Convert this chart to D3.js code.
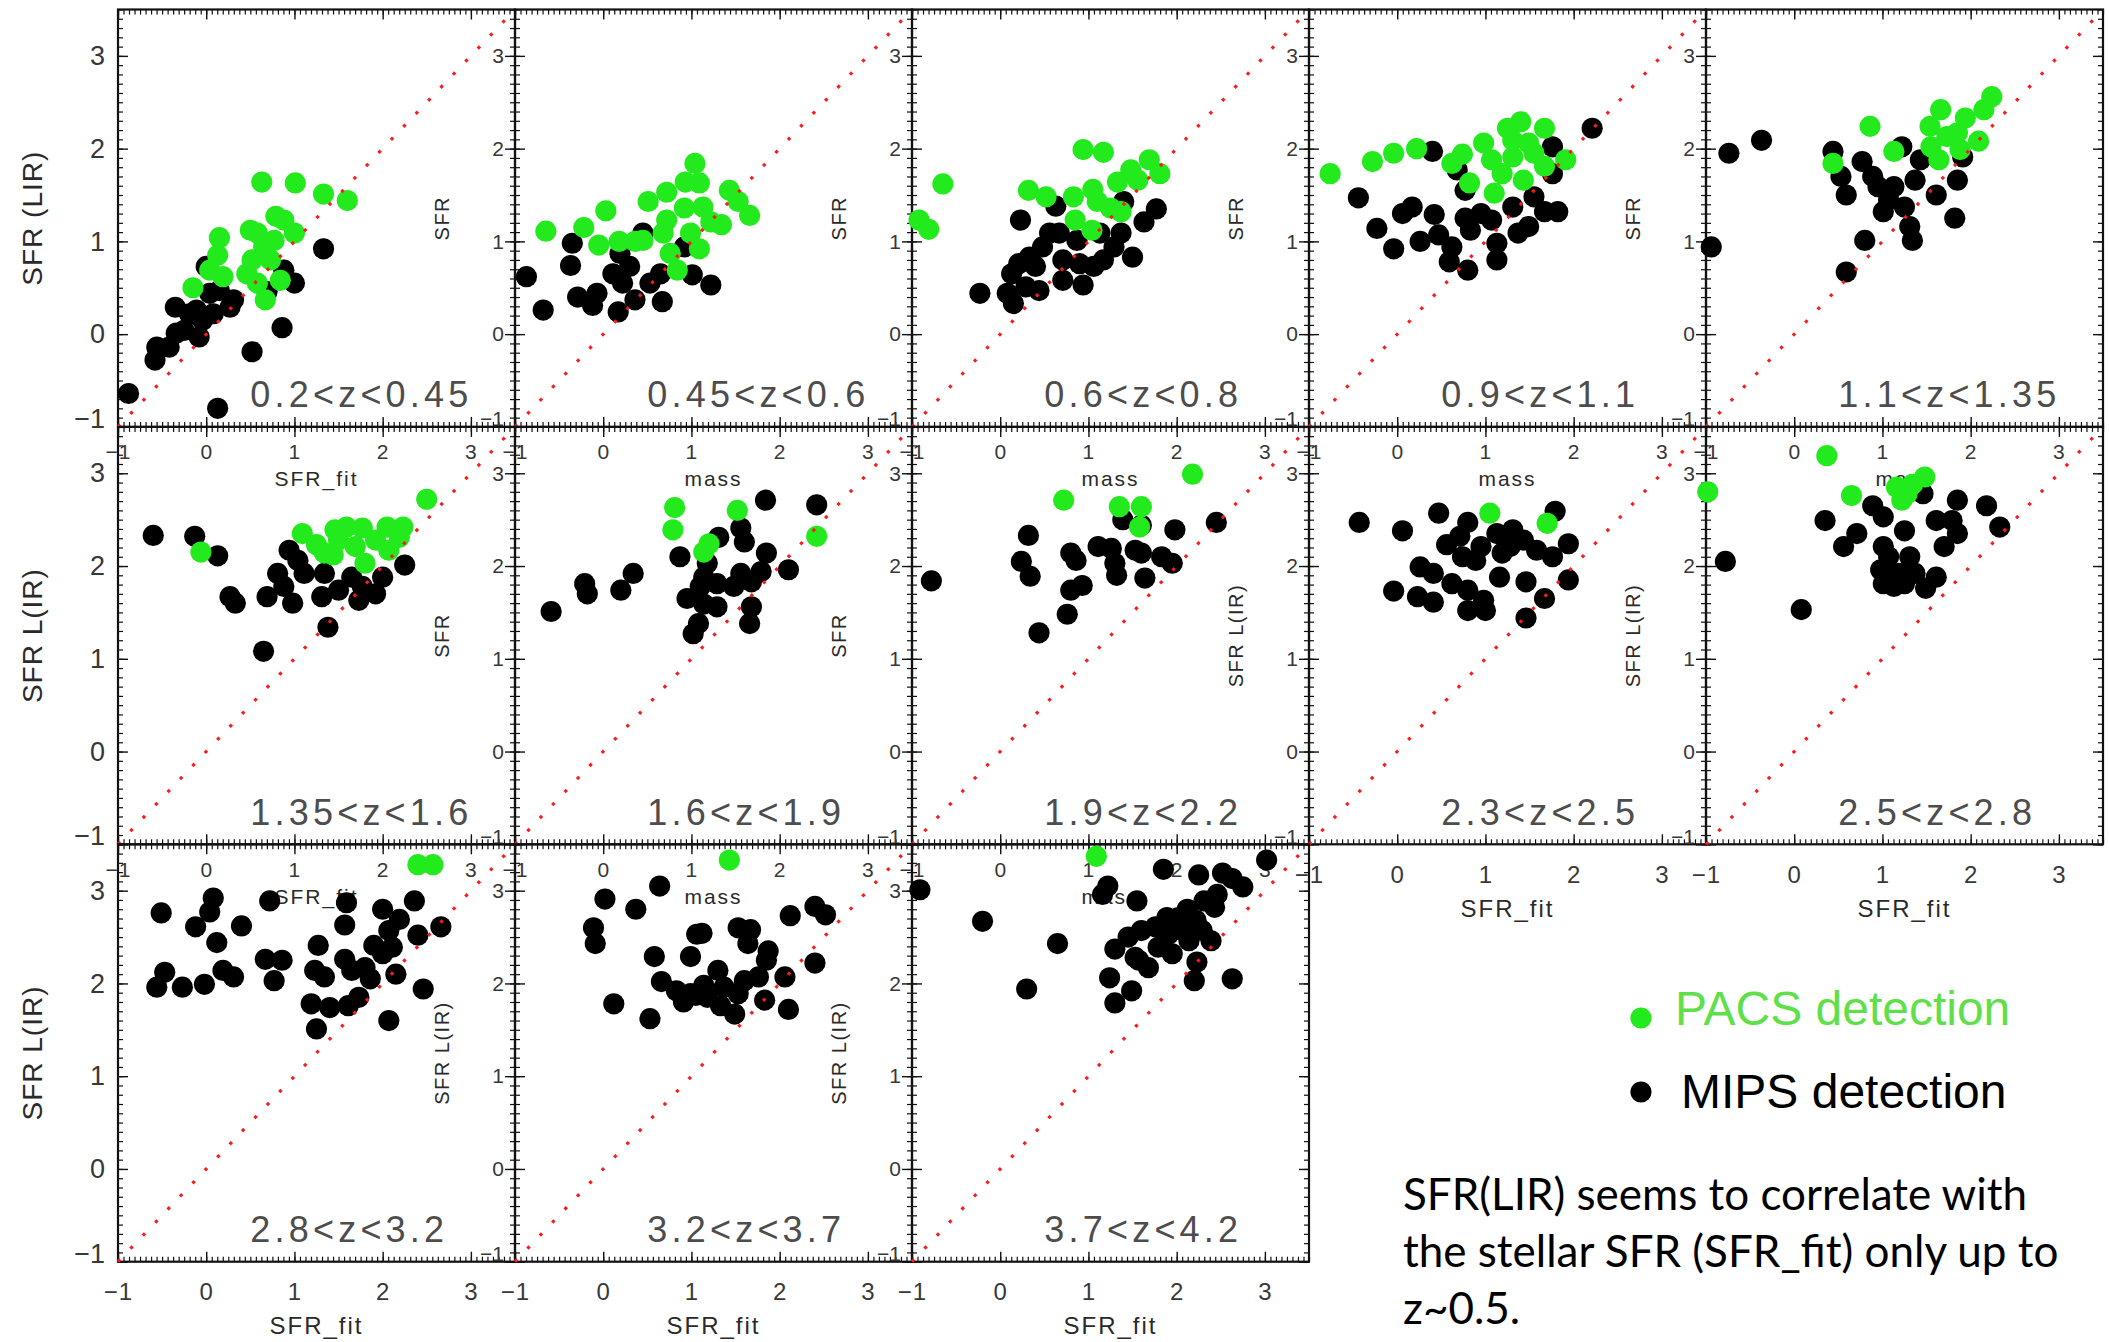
<!DOCTYPE html>
<html><head><meta charset="utf-8">
<script src="https://cdn.jsdelivr.net/npm/d3@7"></script>
<style>body{margin:0;background:#fff}svg{display:block}</style>
</head><body>
<svg id="c" width="2109" height="1342"></svg>
<script>
// ---------------- data ----------------
const zBins = ["0.2<z<0.45","0.45<z<0.6","0.6<z<0.8","0.9<z<1.1","1.1<z<1.35",
               "1.35<z<1.6","1.6<z<1.9","1.9<z<2.2","2.3<z<2.5","2.5<z<2.8",
               "2.8<z<3.2","3.2<z<3.7","3.7<z<4.2"];
const xNames = ["SFR_fit","mass","mass","mass","mass",
                "SFR_fit","mass","mass","SFR_fit","SFR_fit",
                "SFR_fit","SFR_fit","SFR_fit"];
const yNames = ["SFR (LIR)","SFR","SFR","SFR","SFR",
                "SFR L(IR)","SFR","SFR","SFR L(IR)","SFR L(IR)",
                "SFR L(IR)","SFR L(IR)","SFR L(IR)"];
const majorTicks = [-1,0,1,2,3];
const axisDomain = [-1,3.5];
const legendLabels = ["PACS detection","MIPS detection"];
const noteLines = ["SFR(LIR) seems to correlate with","the stellar SFR (SFR_fit) only up to","z~0.5."];

// [SFR_fit (or mass), SFR(LIR)] per redshift bin
const pacs_z1 = [[0.63,1.64],[1.01,1.63],[1.33,1.51],[1.60,1.44],[0.15,1.04],[0.13,0.85],[0.04,0.69],[0.19,0.62],[-0.15,0.50],[0.79,1.27],[0.88,1.23],[1.0,1.09],[0.58,1.09],[0.65,0.94],[0.52,0.80],[0.73,0.80],[0.46,0.65],[0.58,0.55],[0.84,0.58],[0.67,0.37],[0.77,1.01],[0.50,1.12]];
const mips_z1 = [[1.33,0.92],[1.0,0.55],[0.88,0.69],[0.69,0.46],[0.86,0.07],[0.52,-0.19],[0.13,-0.80],[-0.88,-0.64],[-0.58,-0.28],[-0.56,-0.14],[-0.42,-0.14],[-0.35,0.29],[-0.19,0.22],[-0.25,0.04],[-0.08,-0.03],[-0.04,0.15],[0.04,0.44],[0.15,0.47],[0.27,0.29],[0.31,0.37],[0.0,0.73],[-0.11,0.26],[0.08,0.22],[-0.34,0.01]];
const pacs_z2 = [[-0.65,1.11],[-0.22,1.15],[0.03,1.33],[-0.05,0.96],[0.18,1.0],[0.36,1.0],[0.45,1.01],[0.51,1.43],[0.72,1.53],[0.93,1.64],[1.04,1.84],[1.09,1.63],[0.92,1.36],[1.13,1.37],[1.43,1.55],[1.53,1.43],[1.66,1.28],[1.34,1.18],[1.09,0.92],[0.72,1.23],[0.68,1.09],[0.84,0.69],[0.76,0.87],[1.22,1.21],[0.99,1.09]];
const mips_z2 = [[-0.87,0.62],[-0.68,0.26],[-0.37,0.74],[-0.35,0.98],[-0.29,0.40],[-0.12,0.31],[-0.07,0.44],[0.17,0.24],[0.11,0.65],[0.22,0.55],[0.30,0.73],[0.36,0.37],[0.45,1.09],[0.53,0.55],[0.67,0.35],[0.65,0.65],[1.01,0.64],[1.22,0.53],[0.92,0.94],[0.19,0.87]];
const pacs_z3 = [[-0.92,1.23],[-0.81,1.13],[-0.65,1.62],[0.94,1.99],[1.17,1.96],[0.32,1.55],[0.52,1.48],[0.83,1.48],[1.05,1.56],[1.10,1.43],[1.25,1.36],[1.37,1.32],[0.85,1.23],[1.04,1.12],[1.33,1.64],[1.48,1.77],[1.56,1.66],[1.69,1.88],[1.81,1.73]];
const mips_z3 = [[-0.23,0.44],[0.08,0.44],[0.15,0.33],[0.23,1.23],[0.63,1.38],[1.40,1.43],[1.77,1.35],[1.63,1.21],[1.5,0.83],[0.44,0.47],[0.29,0.51],[0.13,0.65],[0.21,0.76],[0.33,0.83],[0.48,0.94],[0.56,1.09],[0.71,0.80],[0.71,0.58],[0.94,0.53],[0.90,0.76],[1.06,0.73],[1.17,0.80],[1.29,0.94],[1.13,1.09],[1.37,1.09],[0.87,1.01],[0.67,1.09],[0.40,0.73]];
const pacs_z4 = [[-0.76,1.73],[-0.28,1.86],[-0.04,1.95],[0.22,2.0],[0.62,1.84],[0.74,1.94],[0.82,1.63],[0.98,2.06],[1.10,1.52],[1.25,2.22],[1.40,2.29],[1.67,2.22],[1.91,1.88],[1.31,1.91],[1.49,2.06],[1.19,1.73],[1.43,1.66],[1.67,1.81],[1.07,1.88],[1.55,1.95],[1.31,2.09]];
const mips_z4 = [[2.21,2.22],[0.40,1.97],[-0.44,1.47],[-0.23,1.14],[-0.04,0.92],[0.06,1.30],[0.17,1.37],[0.26,1.0],[0.42,1.29],[0.47,1.07],[0.62,0.94],[0.59,0.78],[0.80,0.69],[1.13,0.80],[1.13,0.98],[1.37,1.09],[0.77,1.25],[0.95,1.30],[0.77,1.55],[0.68,1.77],[1.31,1.37],[1.55,1.48],[1.67,1.32],[1.82,1.32],[1.76,2.02],[1.76,1.73],[0.83,1.12],[1.07,1.23],[1.49,1.16]];
const pacs_z5 = [[0.86,2.24],[1.13,1.97],[0.44,1.84],[1.66,2.42],[1.54,2.24],[1.94,2.33],[2.15,2.42],[2.24,2.56],[2.09,2.08],[1.55,2.02],[1.73,2.13],[1.85,2.17],[1.64,1.88],[1.88,1.99]];
const mips_z5 = [[-0.94,0.94],[-0.74,1.95],[-0.37,2.09],[0.44,1.97],[0.59,1.50],[0.77,1.86],[0.80,1.01],[0.59,0.67],[1.01,1.32],[1.22,2.02],[1.13,1.59],[1.34,1.01],[1.31,1.16],[1.61,1.50],[1.82,1.25],[1.85,1.66],[1.91,1.91],[0.89,1.70],[1.07,1.45],[1.25,1.37],[1.37,1.66],[1.43,1.88],[0.95,1.59],[0.53,1.70]];
const pacs_z6 = [[2.50,2.72],[-0.06,2.15],[1.09,2.35],[1.25,2.23],[1.34,2.14],[1.44,2.12],[1.46,2.39],[1.59,2.42],[1.77,2.41],[1.80,2.03],[1.92,2.28],[2.05,2.42],[2.07,2.17],[2.23,2.42],[1.50,2.28],[1.69,2.21],[2.19,2.31]];
const mips_z6 = [[-0.60,2.33],[-0.13,2.32],[0.13,2.11],[0.27,1.67],[0.33,1.60],[0.65,1.08],[1.38,1.34],[0.69,1.67],[0.98,1.60],[0.94,2.17],[0.81,1.92],[0.88,1.78],[1.31,1.67],[1.50,1.74],[1.73,1.63],[1.92,1.70],[2.25,2.01],[2.00,1.88],[1.11,1.92],[1.34,1.92],[1.65,1.88],[1.77,1.78],[1.04,2.06]];
const pacs_z7 = [[0.81,2.63],[0.79,2.39],[1.52,2.60],[1.20,2.24],[1.14,2.15],[2.42,2.32]];
const mips_z7 = [[-0.59,1.51],[-0.21,1.81],[-0.18,1.70],[0.20,1.74],[0.34,1.92],[0.87,2.10],[1.31,2.31],[1.56,2.41],[1.60,2.26],[1.84,2.71],[2.42,2.66],[2.10,1.96],[1.85,2.14],[1.79,1.94],[1.56,1.92],[1.68,1.83],[1.48,1.78],[1.29,1.81],[1.14,1.88],[1.18,2.03],[1.10,1.78],[0.95,1.65],[1.29,1.56],[1.68,1.56],[1.66,1.38],[1.08,1.38],[1.02,1.27],[1.14,1.59]];
const pacs_z8 = [[0.72,2.71],[2.18,2.99],[1.35,2.64],[1.60,2.64],[1.58,2.42]];
const mips_z8 = [[-0.78,1.84],[0.32,2.33],[0.24,2.05],[0.34,1.89],[0.44,1.28],[0.76,1.48],[0.80,1.74],[0.93,1.79],[0.80,2.14],[0.86,2.06],[1.11,2.21],[1.26,2.19],[1.32,1.90],[1.30,2.03],[1.39,2.50],[1.60,2.44],[1.53,2.17],[1.60,2.14],[1.64,1.87],[1.83,2.10],[1.95,2.03],[1.98,2.39],[2.45,2.47]];
const pacs_z9 = [[1.05,2.57],[1.70,2.46]];
const mips_z9 = [[-0.43,2.47],[0.06,2.38],[0.47,2.57],[0.80,2.47],[0.56,2.23],[0.71,2.32],[0.26,1.99],[0.41,1.92],[-0.04,1.73],[0.23,1.67],[0.41,1.61],[0.62,1.81],[0.80,1.74],[0.80,1.52],[1.00,1.52],[0.98,1.63],[0.74,2.10],[0.89,2.06],[1.16,1.88],[1.13,2.35],[1.31,2.39],[1.43,2.28],[1.19,2.14],[1.46,1.83],[1.46,1.44],[1.67,1.65],[1.94,1.85],[1.79,2.59],[1.94,2.24],[1.76,2.10],[1.58,2.17],[1.28,2.21],[0.95,2.21]];
const pacs_z10 = [[0.37,3.19],[-0.98,2.80],[0.65,2.76],[1.16,2.85],[1.28,2.78],[1.48,2.96],[1.34,2.88],[1.22,2.71]];
const mips_z10 = [[-0.78,2.05],[0.08,1.53],[0.35,2.49],[0.56,2.21],[0.71,2.35],[0.89,2.65],[1.01,2.53],[1.46,2.78],[1.85,2.71],[2.18,2.65],[2.33,2.42],[1.61,2.49],[1.79,2.49],[1.85,2.35],[1.70,2.21],[1.25,2.38],[1.01,2.21],[0.98,1.96],[1.01,1.81],[1.19,1.92],[1.31,2.10],[1.37,1.92],[1.25,1.81],[1.49,1.76],[1.61,1.88],[1.13,1.78],[1.07,2.10]];
const pacs_z11 = [[2.40,3.28],[2.57,3.28]];
const mips_z11 = [[-0.51,2.76],[-0.56,1.96],[-0.47,2.12],[-0.27,1.96],[-0.02,1.99],[-0.12,2.61],[0.08,2.92],[0.04,2.77],[0.12,2.44],[0.40,2.62],[0.19,2.14],[0.31,2.07],[0.72,2.89],[0.67,2.26],[0.86,2.25],[0.77,2.03],[1.27,2.41],[1.23,2.14],[1.34,2.07],[1.19,1.78],[1.40,1.74],[1.25,1.51],[1.59,2.87],[1.57,2.63],[1.57,2.26],[1.65,2.14],[1.61,1.76],[1.73,1.85],[1.80,2.17],[1.86,2.05],[1.90,2.41],[2.0,2.80],[2.07,2.57],[2.19,2.69],[2.11,2.39],[2.0,2.32],[2.15,2.10],[2.07,1.60],[2.36,2.89],[2.40,2.52],[2.46,1.94],[2.66,2.61]];
const pacs_z12 = [[1.43,3.33]];
const mips_z12 = [[0.64,3.05],[0.02,2.91],[0.37,2.80],[-0.11,2.60],[-0.09,2.43],[0.12,1.78],[0.53,1.62],[0.58,2.29],[0.99,2.29],[1.12,2.54],[1.06,2.53],[1.53,2.60],[1.67,2.58],[1.64,2.43],[1.87,2.35],[1.85,2.25],[2.12,2.73],[2.40,2.83],[2.52,2.74],[2.40,2.22],[2.06,2.07],[1.83,1.82],[2.10,1.72],[0.66,2.02],[0.83,1.92],[0.91,1.80],[1.05,1.87],[1.14,1.98],[1.30,2.14],[1.37,1.96],[1.33,1.76],[1.49,1.67],[1.53,1.89],[1.60,2.03],[1.76,2.07],[1.18,1.85],[0.99,1.89]];
const pacs_z13 = [[1.09,3.37]];
const mips_z13 = [[-0.91,3.01],[-0.20,2.67],[0.65,2.43],[0.30,1.94],[3.02,3.33],[1.85,3.23],[2.25,3.17],[2.52,3.19],[2.75,3.04],[2.63,3.13],[2.46,2.96],[2.43,2.82],[2.31,2.89],[2.12,2.80],[2.22,2.68],[1.89,2.71],[1.22,3.05],[1.16,2.96],[1.55,2.89],[1.30,2.37],[1.45,2.50],[1.60,2.57],[1.76,2.61],[1.91,2.53],[1.95,2.32],[2.06,2.57],[2.14,2.46],[2.29,2.57],[2.39,2.46],[1.57,2.25],[1.68,2.17],[1.53,2.28],[1.24,2.06],[1.49,1.92],[1.30,1.79],[2.23,2.23],[2.20,2.03],[2.63,2.05],[1.79,2.39],[2.02,2.71]];

const pacsSets = [pacs_z1,pacs_z2,pacs_z3,pacs_z4,pacs_z5,pacs_z6,pacs_z7,pacs_z8,pacs_z9,pacs_z10,pacs_z11,pacs_z12,pacs_z13];
const mipsSets = [mips_z1,mips_z2,mips_z3,mips_z4,mips_z5,mips_z6,mips_z7,mips_z8,mips_z9,mips_z10,mips_z11,mips_z12,mips_z13];

// ---------------- drawing ----------------
const svg = d3.select("#c");
svg.append("rect").attr("width",2109).attr("height",1342).attr("fill","#fff");
const FONT = "'Liberation Sans', Arial, Helvetica, sans-serif";
const GREEN = "#22ea1c";
const R = 10.6;
const PW = 397, PH = 417.4, X0 = 118, Y0 = 9.5;
const intFmt = d3.format("d");
const xMinor = d3.range(0, 73).map(k => -1 + k/16).filter(v => v <= 3.5);
const yMinor = d3.range(0, 46).map(k => -1 + k/10).filter(v => v <= 3.5);

function styleAxis(sel, w) {
  sel.select(".domain").remove();
  sel.selectAll("line").attr("stroke","#111").attr("stroke-width", w);
}

zBins.forEach((label, i) => {
  const row = Math.floor(i/5), col = i % 5;
  const L = X0 + PW*col, T = Y0 + PH*row;
  const x = d3.scaleLinear().domain(axisDomain).range([L, L+PW]);
  const y = d3.scaleLinear().domain(axisDomain).range([T+PH, T]);
  const g = svg.append("g");
  const bottomMost = (row === 2) || (row === 1 && col >= 3);

  // minor ticks on all four sides (inward)
  g.append("g").attr("transform",`translate(0,${T+PH})`).call(d3.axisBottom(x).tickValues(xMinor).tickSize(-5).tickFormat("")).call(s=>styleAxis(s,1.2));
  g.append("g").attr("transform",`translate(0,${T})`).call(d3.axisTop(x).tickValues(xMinor).tickSize(-5).tickFormat("")).call(s=>styleAxis(s,1.2));
  g.append("g").attr("transform",`translate(${L},0)`).call(d3.axisLeft(y).tickValues(yMinor).tickSize(-5).tickFormat("")).call(s=>styleAxis(s,1.2));
  g.append("g").attr("transform",`translate(${L+PW},0)`).call(d3.axisRight(y).tickValues(yMinor).tickSize(-5).tickFormat("")).call(s=>styleAxis(s,1.2));
  // major ticks
  g.append("g").attr("transform",`translate(0,${T})`).call(d3.axisTop(x).tickValues(majorTicks).tickSize(-10).tickFormat("")).call(s=>styleAxis(s,1.4));
  g.append("g").attr("transform",`translate(${L+PW},0)`).call(d3.axisRight(y).tickValues(majorTicks).tickSize(-10).tickFormat("")).call(s=>styleAxis(s,1.4));

  // bottom axis with labels
  const xfs = bottomMost ? 24 : 21;
  const xpad = bottomMost ? 21.6 : 17.6;
  const bx = g.append("g").attr("transform",`translate(0,${T+PH})`)
    .call(d3.axisBottom(x).tickValues(majorTicks).tickFormat(intFmt).tickSize(-10).tickPadding(xpad))
    .call(s=>styleAxis(s,1.4));
  bx.selectAll("text").attr("font-size",xfs).attr("font-family",FONT).attr("fill","#383838").attr("letter-spacing",1);

  // left axis with labels
  const yfs = col === 0 ? 27 : 21;
  const ypad = col === 0 ? 13 : 11;
  const ly = g.append("g").attr("transform",`translate(${L},0)`)
    .call(d3.axisLeft(y).tickValues(majorTicks).tickFormat(intFmt).tickSize(-10).tickPadding(ypad))
    .call(s=>styleAxis(s,1.4));
  ly.selectAll("text").attr("font-size",yfs).attr("font-family",FONT).attr("fill","#383838")
    .attr("y", d => d === -1 ? -8 : 0);

  // frame
  g.append("rect").attr("x",L).attr("y",T).attr("width",PW).attr("height",PH)
    .attr("fill","none").attr("stroke","#111").attr("stroke-width",2.2);

  // axis titles
  const nfs = bottomMost ? 24 : 21;
  g.append("text").attr("x", L+PW/2).attr("y", T+PH + (bottomMost ? 64 : 52))
    .attr("text-anchor","middle").attr("dominant-baseline","central")
    .attr("font-family",FONT).attr("font-size",nfs).attr("letter-spacing",2)
    .attr("fill","#2a2a2a").text(xNames[i]);
  const yx = col === 0 ? 32 : L - 73;
  const yfs2 = col === 0 ? 28 : 20;
  g.append("text").attr("transform",`translate(${yx},${T+PH/2}) rotate(-90)`)
    .attr("text-anchor","middle").attr("dominant-baseline","central")
    .attr("font-family",FONT).attr("font-size",yfs2).attr("letter-spacing",col===0?1:1.5)
    .attr("fill","#2a2a2a").text(yNames[i]);

  // redshift label
  g.append("text").attr("x", x(0.5)).attr("y", y(-0.79))
    .attr("font-family",FONT).attr("font-size",36).attr("letter-spacing",4.2)
    .attr("fill","#4d4d4d").text(label);

  // points
  g.append("g").selectAll("circle").data(mipsSets[i]).join("circle")
    .attr("cx", d => x(d[0])).attr("cy", d => y(d[1])).attr("r", R).attr("fill","#000");
  g.append("g").selectAll("circle").data(pacsSets[i]).join("circle")
    .attr("cx", d => x(d[0])).attr("cy", d => y(d[1])).attr("r", R).attr("fill",GREEN);

  // one-to-one line
  g.append("line").attr("x1",x(-1)).attr("y1",y(-1)).attr("x2",x(3.5)).attr("y2",y(3.5))
    .attr("stroke","#ff1a1a").attr("stroke-width",3.2).attr("stroke-dasharray","3.2 14.8");
});

// legend
const lg = svg.append("g");
lg.append("circle").attr("cx",1641).attr("cy",1018).attr("r",R).attr("fill",GREEN);
lg.append("text").attr("x",1675).attr("y",1025).attr("font-family",FONT).attr("font-size",48)
  .attr("fill","#5fe04a").text(legendLabels[0]);
lg.append("circle").attr("cx",1641).attr("cy",1092).attr("r",R).attr("fill","#000");
lg.append("text").attr("x",1681).attr("y",1108).attr("font-family",FONT).attr("font-size",48)
  .attr("fill","#000").text(legendLabels[1]);

// note
svg.append("g").selectAll("text").data(noteLines).join("text")
  .attr("x",1403).attr("y",(d,k)=>1210 + 57*k)
  .attr("font-family","Lato, 'Open Sans', sans-serif").attr("font-size",44)
  .attr("fill","#000").text(d=>d);
</script>
</body></html>
